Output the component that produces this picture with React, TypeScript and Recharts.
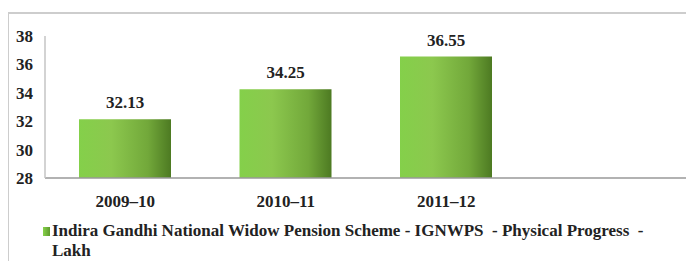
import React from 'react';
import { BarChart, Bar, XAxis, YAxis, LabelList, Legend } from 'recharts';

const years = ['2009–10', '2010–11', '2011–12', ''];
const beneficiaries = [32.13, 34.25, 36.55, null];
const yTicks = [28, 30, 32, 34, 36, 38];
const seriesName = 'Indira Gandhi National Widow Pension Scheme - IGNWPS  - Physical Progress  - Lakh';

const FONT = "'Liberation Serif', Tinos, 'Noto Serif', 'Times New Roman', Times, 'DejaVu Serif', serif";

const chartData = years.map((year, i) => ({ year, value: beneficiaries[i] }));

const renderLegend = () => (
  <div
    style={{
      height: 40,
      paddingLeft: 35,
      display: 'flex',
      alignItems: 'flex-start',
      fontFamily: FONT,
      fontWeight: 'bold',
      fontSize: 17,
      lineHeight: '20px',
      color: '#222',
    }}
  >
    <span
      style={{
        display: 'inline-block',
        width: 7,
        height: 9,
        marginTop: 6,
        marginRight: 2,
        background: 'linear-gradient(to right, #86d24a, #5f9a2e)',
        flexShrink: 0,
      }}
    />
    <span style={{ width: 630, whiteSpace: 'pre-wrap' }}>{seriesName}</span>
  </div>
);

const App: React.FC = () => {
  return (
    <div style={{ position: 'relative', width: 686, height: 253, overflow: 'hidden', background: '#fff' }}>
      <div
        style={{
          position: 'absolute',
          left: -1,
          top: 4,
          width: 720,
          height: 300,
          borderTop: '2px solid #cdcdcd',
          borderLeft: '2px solid #cdcdcd',
        }}
      />
      <BarChart
        width={686}
        height={253}
        data={chartData}
        margin={{ top: 28, right: 7, bottom: 0, left: 0 }}
        barSize={92}
        style={{ position: 'absolute', left: 0, top: 0 }}
      >
        <defs>
          <linearGradient id="barGreen" x1="0" y1="0" x2="1" y2="0">
            <stop offset="0%" stopColor="#84d04a" />
            <stop offset="35%" stopColor="#8cc84e" />
            <stop offset="75%" stopColor="#72a83a" />
            <stop offset="100%" stopColor="#4d7a22" />
          </linearGradient>
        </defs>
        <XAxis
          dataKey="year"
          height={43}
          tickLine={false}
          tickSize={0}
          tickMargin={17}
          axisLine={{ stroke: '#999', strokeWidth: 1.5 }}
          tick={{ fill: '#222', fontFamily: FONT, fontWeight: 'bold', fontSize: 17 }}
        />
        <YAxis
          width={37}
          domain={[28, 38]}
          ticks={yTicks}
          interval={0}
          tickLine={false}
          tickSize={6}
          tickMargin={6}
          axisLine={{ stroke: '#c4c4c4', strokeWidth: 1.5 }}
          tick={{ fill: '#222', fontFamily: FONT, fontWeight: 'bold', fontSize: 17 }}
          allowDataOverflow
        />
        <Legend verticalAlign="bottom" align="left" content={renderLegend} />
        <Bar dataKey="value" name={seriesName} fill="url(#barGreen)" isAnimationActive={false}>
          <LabelList
            dataKey="value"
            position="top"
            offset={11}
            fill="#222"
            fontFamily={FONT}
            fontWeight="bold"
            fontSize={17}
          />
        </Bar>
      </BarChart>
    </div>
  );
};

export default App;
